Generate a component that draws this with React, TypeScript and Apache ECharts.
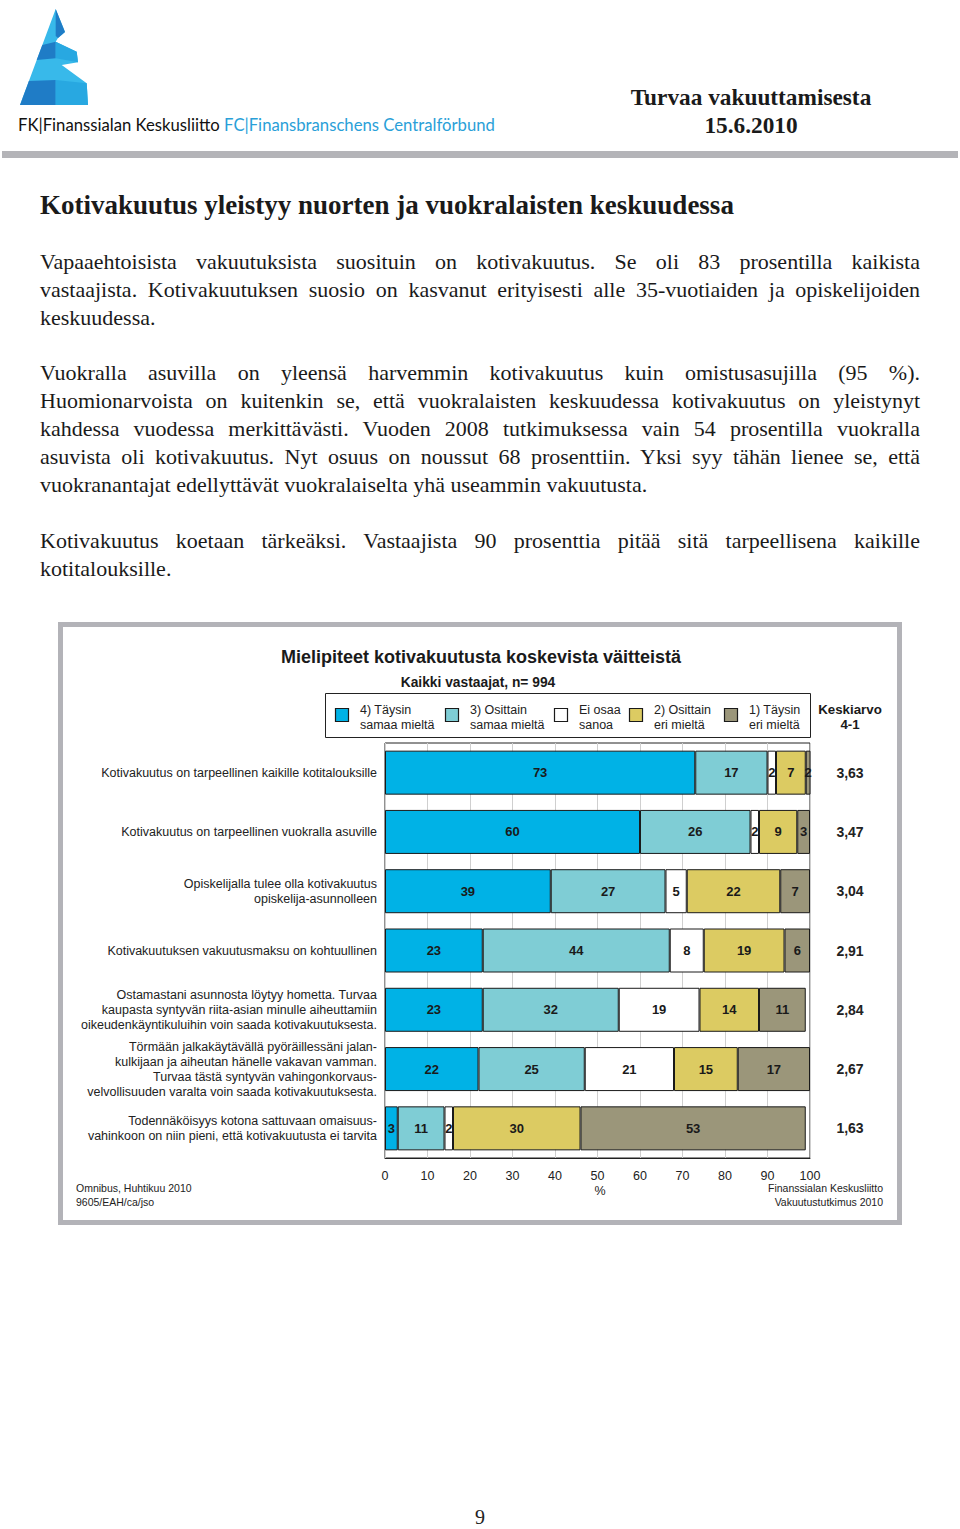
import React, { useEffect, useRef } from "react";
import * as echarts from "echarts";

const categories = [
  "Kotivakuutus on tarpeellinen kaikille kotitalouksille",
  "Kotivakuutus on tarpeellinen vuokralla asuville",
  "Opiskelijalla tulee olla kotivakuutus\nopiskelija-asunnolleen",
  "Kotivakuutuksen vakuutusmaksu on kohtuullinen",
  "Ostamastani asunnosta löytyy hometta. Turvaa\nkaupasta syntyvän riita-asian minulle aiheuttamiin\noikeudenkäyntikuluihin voin saada kotivakuutuksesta.",
  "Törmään jalkakäytävällä pyöräillessäni jalan-\nkulkijaan ja aiheutan hänelle vakavan vamman.\nTurvaa tästä syntyvän vahingonkorvaus-\nvelvollisuuden varalta voin saada kotivakuutuksesta.",
  "Todennäköisyys kotona sattuvaan omaisuus-\nvahinkoon on niin pieni, että kotivakuutusta ei tarvita",
];
const seriesNames = [
  "4) Täysin\nsamaa mieltä",
  "3) Osittain\nsamaa mieltä",
  "Ei osaa\nsanoa",
  "2) Osittain\neri mieltä",
  "1) Täysin\neri mieltä",
];
const fullyAgree = [73, 60, 39, 23, 23, 22, 3];
const partlyAgree = [17, 26, 27, 44, 32, 25, 11];
const dontKnow = [2, 2, 5, 8, 19, 21, 2];
const partlyDisagree = [7, 9, 22, 19, 14, 15, 30];
const fullyDisagree = [2, 3, 7, 6, 11, 17, 53];
const means = ["3,63", "3,47", "3,04", "2,91", "2,84", "2,67", "1,63"];
const colors = ["#00b2e6", "#7fcdd5", "#ffffff", "#dccb62", "#9b967a"];
const legendIconX = [335, 445, 554, 629, 724];

const paragraphs: string[][] = [
  [
    "Vapaaehtoisista vakuutuksista suosituin on kotivakuutus. Se oli 83 prosentilla kaikista",
    "vastaajista. Kotivakuutuksen suosio on kasvanut erityisesti alle 35-vuotiaiden ja opiskelijoiden",
    "keskuudessa.",
  ],
  [
    "Vuokralla asuvilla on yleensä harvemmin kotivakuutus kuin omistusasujilla (95 %).",
    "Huomionarvoista on kuitenkin se, että vuokralaisten keskuudessa kotivakuutus on yleistynyt",
    "kahdessa vuodessa merkittävästi. Vuoden 2008 tutkimuksessa vain 54 prosentilla vuokralla",
    "asuvista oli kotivakuutus. Nyt osuus on noussut 68 prosenttiin. Yksi syy tähän lienee se, että",
    "vuokranantajat edellyttävät vuokralaiselta yhä useammin vakuutusta.",
  ],
  [
    "Kotivakuutus koetaan tärkeäksi. Vastaajista 90 prosenttia pitää sitä tarpeellisena kaikille",
    "kotitalouksille.",
  ],
];
const paragraphTops = [262, 373, 541];

const SANS = "'Liberation Sans', Arial, sans-serif";
const SERIF = "'Liberation Serif', 'Times New Roman', serif";

export default function App() {
  const ref = useRef<HTMLDivElement>(null);
  useEffect(() => {
    if (!ref.current) return;
    const chart = echarts.init(ref.current, undefined, { renderer: "svg" });
    const data = [fullyAgree, partlyAgree, dontKnow, partlyDisagree, fullyDisagree];
    const dark = "#1f7cc6";
    const light = "#38b9ea";
    const mid = "#28a8e1";
    const legendGraphics: any[] = [];
    seriesNames.forEach((name, i) => {
      legendGraphics.push({
        type: "rect",
        shape: { x: legendIconX[i] + 0.5, y: 708.5, width: 13, height: 13 },
        style: { fill: colors[i], stroke: "#1a1a1a", lineWidth: 1.2 },
      });
      legendGraphics.push({
        type: "text",
        x: legendIconX[i] + 25,
        y: 717.5,
        style: {
          text: name,
          font: `12.5px ${SANS}`,
          lineHeight: 15,
          fill: "#222",
          verticalAlign: "middle",
        },
      });
    });
    chart.setOption({
      animation: false,
      textStyle: { fontFamily: SANS },
      grid: {
        left: 385,
        top: 743,
        width: 425,
        height: 415,
        show: true,
        borderColor: "#222",
        borderWidth: 1,
        containLabel: false,
      },
      xAxis: {
        type: "value",
        min: 0,
        max: 100,
        interval: 10,
        axisLine: { show: true, lineStyle: { color: "#222" } },
        axisTick: { show: false },
        axisLabel: { fontSize: 12.5, color: "#222", margin: 11 },
        splitLine: { show: true, lineStyle: { color: "#cfcfcf", width: 1 } },
      },
      yAxis: [
        {
          type: "category",
          data: categories,
          inverse: true,
          axisLine: { show: false },
          axisTick: { show: false },
          axisLabel: {
            fontSize: 12.5,
            lineHeight: 15,
            color: "#222",
            margin: 8,
            align: "right",
          },
        },
        {
          type: "category",
          data: means,
          inverse: true,
          position: "right",
          axisLine: { show: false },
          axisTick: { show: false },
          axisLabel: {
            fontSize: 14,
            fontWeight: "bold",
            color: "#222",
            margin: 40,
            align: "center",
          },
        },
      ],
      series: data.map((vals, i) => ({
        name: seriesNames[i],
        type: "bar",
        stack: "total",
        yAxisIndex: 0,
        barWidth: 44,
        data: vals,
        itemStyle: { color: colors[i], borderColor: "#1a1a1a", borderWidth: 1 },
        label: {
          show: true,
          position: "inside",
          fontSize: 13,
          fontWeight: "bold",
          color: "#1a1a1a",
        },
      })),
      graphic: [
        // logo
        {
          type: "polygon",
          shape: {
            points: [
              [55.7, 9], [65, 32], [58, 38], [55.7, 41.7], [76.7, 51.7], [78, 62.3],
              [61.7, 65], [86.7, 83.3], [88, 105], [20, 105],
            ],
          },
          style: { fill: light },
        },
        { type: "polygon", shape: { points: [[55.7, 9], [65, 32], [58, 38], [55.7, 36]] }, style: { fill: dark } },
        { type: "polygon", shape: { points: [[42.3, 45], [55.7, 41.7], [55.7, 58.3], [36.7, 60]] }, style: { fill: dark } },
        { type: "polygon", shape: { points: [[55.7, 41.7], [76.7, 51.7], [78, 62.3], [55.7, 58.3]] }, style: { fill: mid } },
        { type: "polygon", shape: { points: [[28.9, 81], [55.7, 80], [55.7, 105], [20, 105]] }, style: { fill: dark } },
        { type: "polygon", shape: { points: [[55.7, 80], [86.7, 83.3], [88, 105], [55.7, 105]] }, style: { fill: mid } },
        {
          type: "text",
          x: 18,
          y: 125,
          style: {
            text: "{a|FK|Finanssialan Keskusliitto }{b|FC|Finansbranschens Centralförbund}",
            verticalAlign: "middle",
            rich: {
              a: { fontFamily: "Lato, 'Open Sans', sans-serif", fontSize: 16.7, fill: "#111" },
              b: { fontFamily: "Lato, 'Open Sans', sans-serif", fontSize: 16.7, fill: "#2a9fd8" },
            },
          },
        },
        {
          type: "text",
          x: 751,
          y: 97,
          style: {
            text: "Turvaa vakuuttamisesta",
            font: `bold 23.3px ${SERIF}`,
            fill: "#1a1a1a",
            align: "center",
            verticalAlign: "middle",
          },
        },
        {
          type: "text",
          x: 751,
          y: 125,
          style: {
            text: "15.6.2010",
            font: `bold 23.3px ${SERIF}`,
            fill: "#1a1a1a",
            align: "center",
            verticalAlign: "middle",
          },
        },
        { type: "rect", shape: { x: 2, y: 151, width: 956, height: 7 }, style: { fill: "#b4b4b8" } },
        {
          type: "text",
          x: 40,
          y: 205,
          style: {
            text: "Kotivakuutus yleistyy nuorten ja vuokralaisten keskuudessa",
            font: `bold 27px ${SERIF}`,
            fill: "#1a1a1a",
            verticalAlign: "middle",
          },
        },
        // chart frame
        {
          type: "rect",
          shape: { x: 60.5, y: 624.5, width: 839, height: 598 },
          style: { fill: "none", stroke: "#b3b3b8", lineWidth: 5 },
        },
        {
          type: "text",
          x: 481,
          y: 657,
          style: {
            text: "Mielipiteet kotivakuutusta koskevista väitteistä",
            font: `bold 18px ${SANS}`,
            fill: "#1a1a1a",
            align: "center",
            verticalAlign: "middle",
          },
        },
        {
          type: "text",
          x: 478,
          y: 682,
          style: {
            text: "Kaikki vastaajat, n= 994",
            font: `bold 13.8px ${SANS}`,
            fill: "#1a1a1a",
            align: "center",
            verticalAlign: "middle",
          },
        },
        {
          type: "rect",
          shape: { x: 325.5, y: 693.5, width: 485, height: 44 },
          style: { fill: "none", stroke: "#222", lineWidth: 1 },
        },
        ...legendGraphics,
        {
          type: "text",
          x: 850,
          y: 717,
          style: {
            text: "Keskiarvo\n4-1",
            font: `bold 13.3px ${SANS}`,
            lineHeight: 15,
            fill: "#1a1a1a",
            align: "center",
            verticalAlign: "middle",
          },
        },
        {
          type: "text",
          x: 600,
          y: 1191,
          style: { text: "%", font: `12.5px ${SANS}`, fill: "#222", align: "center", verticalAlign: "middle" },
        },
        {
          type: "text",
          x: 76,
          y: 1195,
          style: {
            text: "Omnibus, Huhtikuu 2010\n9605/EAH/ca/jso",
            font: `10.5px ${SANS}`,
            lineHeight: 14,
            fill: "#222",
            verticalAlign: "middle",
          },
        },
        {
          type: "text",
          x: 883,
          y: 1195,
          style: {
            text: "Finanssialan Keskusliitto\nVakuutustutkimus 2010",
            font: `10.5px ${SANS}`,
            lineHeight: 14,
            fill: "#222",
            align: "right",
            verticalAlign: "middle",
          },
        },
        {
          type: "text",
          x: 480,
          y: 1517,
          style: { text: "9", font: `20px ${SERIF}`, fill: "#222", align: "center", verticalAlign: "middle" },
        },
      ],
    });
    return () => chart.dispose();
  }, []);

  return (
    <div style={{ position: "absolute", left: 0, top: 0, width: 960, height: 1529, background: "#fff" }}>
      <div ref={ref} style={{ position: "absolute", left: 0, top: 0, width: 960, height: 1529 }} />
      {paragraphs.map((lines, pi) =>
        lines.map((line, li) => {
          const last = li === lines.length - 1;
          return (
            <div
              key={`${pi}-${li}`}
              style={{
                position: "absolute",
                left: 40,
                width: 880,
                top: paragraphTops[pi] + li * 28 - 14,
                height: 28,
                lineHeight: "28px",
                fontFamily: SERIF,
                fontSize: 22,
                color: "#1a1a1a",
                whiteSpace: "nowrap",
                textAlign: last ? "left" : "justify",
                textAlignLast: last ? "left" : "justify",
              } as React.CSSProperties}
            >
              {line}
            </div>
          );
        })
      )}
    </div>
  );
}
